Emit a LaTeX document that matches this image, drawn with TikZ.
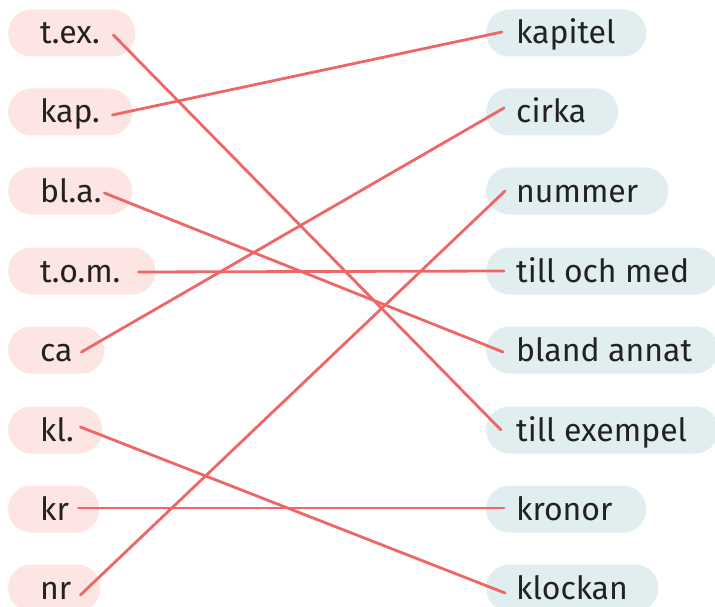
\documentclass[tikz,border=0pt]{standalone}
\usepackage{fontspec}
\setmainfont{Fira Sans}
\definecolor{pinkfill}{HTML}{FDE5E3}
\definecolor{bluefill}{HTML}{E1EEF0}
\definecolor{linkred}{HTML}{EE6666}
\definecolor{txtdark}{HTML}{222222}
\tikzset{
  lbox/.style={fill=pinkfill, rounded corners=23pt, minimum height=47pt, inner xsep=32pt, inner ysep=0pt,
    anchor=west, text=txtdark, font=\fontsize{32}{38}\selectfont, text height=26pt, text depth=4pt},
  rbox/.style={lbox, fill=bluefill, inner xsep=30pt},
  link/.style={draw=linkred, line width=2.8pt, line cap=round}
}
\begin{document}
\begin{tikzpicture}[x=1pt,y=-1pt]
\clip (0,0) rectangle (715,607);
\fill[white] (0,0) rectangle (715,607);
% left column
\node[lbox] (tex) at (8,33)  {\makebox[63pt][l]{t.ex.}};
\node[lbox] (kap) at (8,112) {\makebox[60pt][l]{kap.}};
\node[lbox] (bla) at (8,191) {\makebox[60pt][l]{bl.a.}};
\node[lbox] (tom) at (8,271) {\makebox[83pt][l]{t.o.m.}};
\node[lbox] (ca)  at (8,350) {\makebox[32pt][l]{ca}};
\node[lbox] (kl)  at (8,430) {\makebox[30pt][l]{kl.}};
\node[lbox] (kr)  at (8,509) {\makebox[27pt][l]{kr}};
\node[lbox] (nr)  at (8,588) {\makebox[28pt][l]{nr}};
% right column
\node[rbox] (kapitel) at (486,33)  {\makebox[100pt][l]{kapitel}};
\node[rbox] (cirka)   at (486,112) {\makebox[72pt][l]{cirka}};
\node[rbox] (nummer)  at (486,191) {\makebox[122pt][l]{nummer}};
\node[rbox] (tilloch) at (486,271) {\makebox[172pt][l]{till och med}};
\node[rbox] (bland)   at (486,350) {\makebox[172pt][l]{bland annat}};
\node[rbox] (tillex)  at (486,430) {\makebox[172pt][l]{till exempel}};
\node[rbox] (kronor)  at (486,509) {\makebox[100pt][l]{kronor}};
\node[rbox] (klockan) at (486,588) {\makebox[112pt][l]{klockan}};
% connectors
\draw[link] ([xshift=-22pt,yshift=-2pt]tex.east) -- ([xshift=15pt,yshift=0pt]tillex.west);
\draw[link] ([xshift=-20pt,yshift=-3pt]kap.east) -- ([xshift=16pt,yshift=1pt]kapitel.west);
\draw[link] ([xshift=-28pt,yshift=-2pt]bla.east) -- ([xshift=17pt,yshift=-2pt]bland.west);
\draw[link] ([xshift=-17pt,yshift=-1pt]tom.east) -- ([xshift=18pt,yshift=0pt]tilloch.west);
\draw[link] ([xshift=-23pt,yshift=-2pt]ca.east) -- ([xshift=18pt,yshift=4pt]cirka.west);
\draw[link] ([xshift=-22pt,yshift=3pt]kl.east) -- ([xshift=19pt,yshift=-5pt]klockan.west);
\draw[link] ([xshift=-21pt,yshift=1pt]kr.east) -- ([xshift=18pt,yshift=1pt]kronor.west);
\draw[link] ([xshift=-20pt,yshift=-7pt]nr.east) -- ([xshift=19pt,yshift=0pt]nummer.west);
\end{tikzpicture}
\end{document}
